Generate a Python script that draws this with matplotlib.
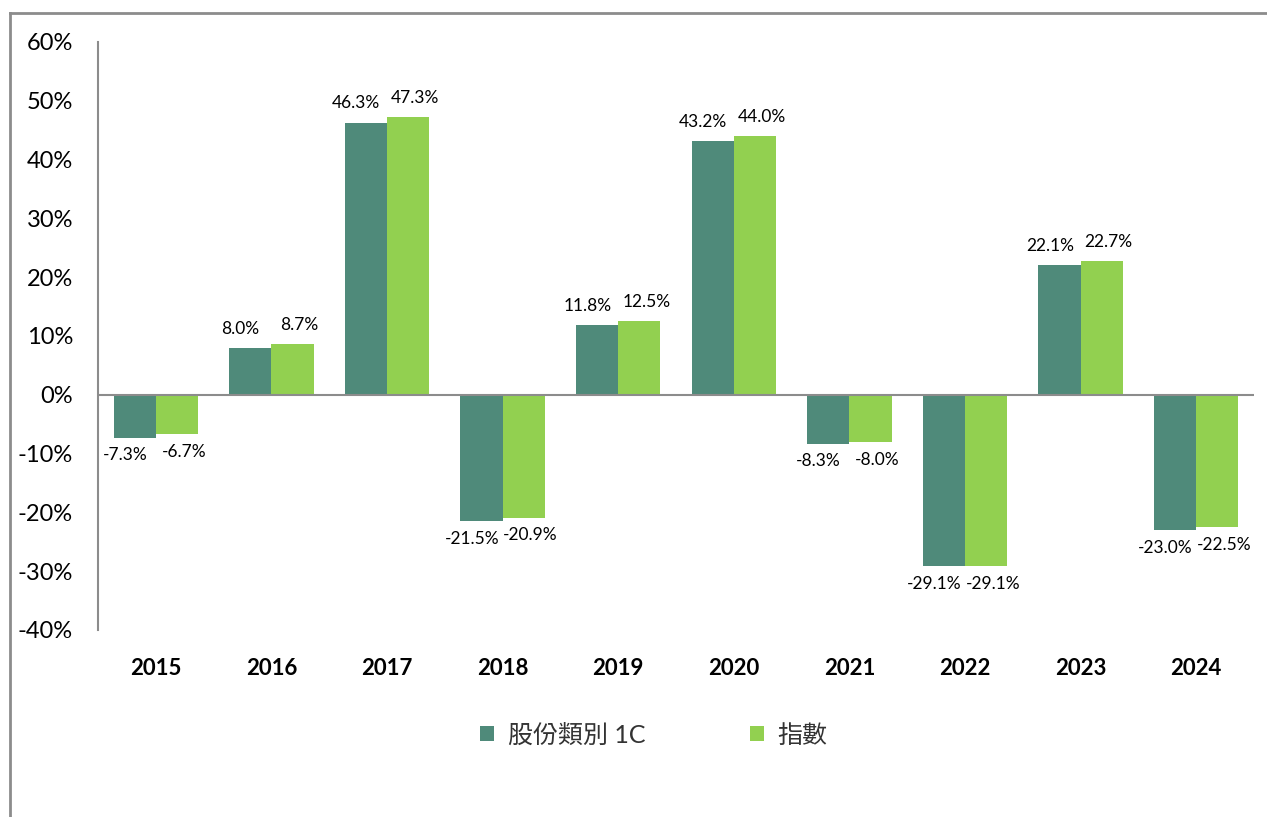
import matplotlib
matplotlib.use("Agg")
import matplotlib.pyplot as plt
from matplotlib.lines import Line2D
import numpy as np

years = ["2015", "2016", "2017", "2018", "2019", "2020", "2021", "2022", "2023", "2024"]
fund = [-7.3, 8.0, 46.3, -21.5, 11.8, 43.2, -8.3, -29.1, 22.1, -23.0]
index = [-6.7, 8.7, 47.3, -20.9, 12.5, 44.0, -8.0, -29.1, 22.7, -22.5]
series_names = ["股份類別 1C", "指數"]
yticks = [-40, -30, -20, -10, 0, 10, 20, 30, 40, 50, 60]

c_fund = "#4F8A7A"
c_index = "#92D050"

plt.rcParams['font.family'] = ['Lato', 'Noto Sans CJK TC', 'DejaVu Sans']

fig = plt.figure(figsize=(12.67, 8.17), dpi=100)
ax = fig.add_axes([98/1267, 1-630/817, (1254-98)/1267, (630-42)/817])

x = np.arange(len(years))
w = 0.365
b1 = ax.bar(x - w/2, fund, w, color=c_fund, label=series_names[0], zorder=2)
b2 = ax.bar(x + w/2, index, w, color=c_index, label=series_names[1], zorder=2)

for bars, vals, dx in ((b1, fund, -7), (b2, index, 5)):
    for rect, v in zip(bars, vals):
        cx = rect.get_x() + rect.get_width()/2
        if v >= 0:
            ax.annotate(f"{v:.1f}%", (cx, v), xytext=(dx, 8), textcoords="offset points",
                        ha="center", va="bottom", fontsize=12.5)
        else:
            ax.annotate(f"{v:.1f}%", (cx, v), xytext=(dx, -7), textcoords="offset points",
                        ha="center", va="top", fontsize=12.5)

ax.set_xlim(-0.5, len(years) - 0.5)
ax.set_ylim(-40, 60)
ax.set_yticks(yticks)
ax.set_yticklabels([f"{t}%" for t in yticks], fontsize=17)
ax.set_xticks(x)
ax.set_xticklabels(years, fontsize=16, fontweight="bold")
ax.tick_params(axis="both", length=0)
ax.tick_params(axis="y", pad=18)
ax.tick_params(axis="x", pad=20)
for s in ("top", "right", "bottom"):
    ax.spines[s].set_visible(False)
ax.spines["left"].set_color("#8C8C8C")
ax.spines["left"].set_linewidth(1.5)
ax.axhline(0, color="#8C8C8C", linewidth=1.5, zorder=3)

# outer frame (partially cropped)
fig.add_artist(Line2D([10/1267, 1.0], [1-13/817, 1-13/817], transform=fig.transFigure,
                      color="#8C8C8C", linewidth=2))
fig.add_artist(Line2D([10/1267, 10/1267], [0, 1-13/817], transform=fig.transFigure,
                      color="#8C8C8C", linewidth=2))

leg = fig.legend(handles=[b1, b2], labels=series_names, loc="center",
                 bbox_to_anchor=(0.516, 1-735/817), ncol=2, frameon=False,
                 fontsize=18, handlelength=0.56, handleheight=0.56, columnspacing=4.2,
                 handletextpad=0.55)
for t in leg.get_texts():
    t.set_color("#333333")

fig.savefig("out.png", dpi=100)
